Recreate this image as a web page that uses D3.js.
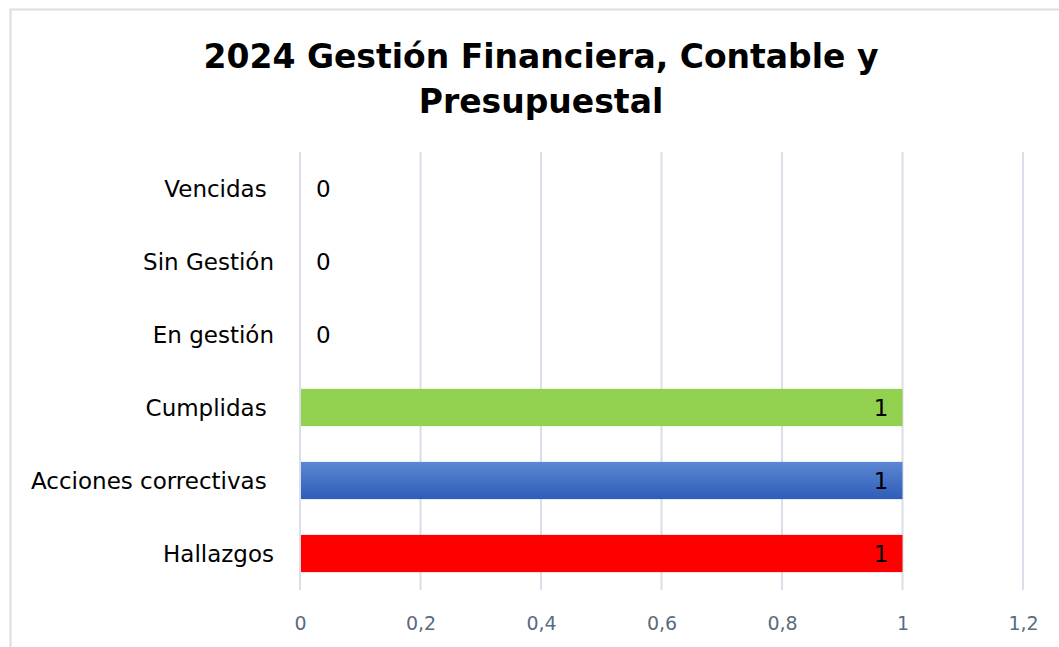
<!DOCTYPE html>
<html>
<head>
<meta charset="utf-8">
<script src="https://cdn.jsdelivr.net/npm/d3@7"></script>
<style>
  body { margin: 0; background: #fff; }
  text { font-family: "DejaVu Sans", Verdana, sans-serif; }
</style>
</head>
<body>
<div id="chart"></div>
<script>
// datos
var categories = ["Vencidas ", "Sin Gestión", "En gestión", "Cumplidas ", "Acciones correctivas ", "Hallazgos"];
var values = [0, 0, 0, 1, 1, 1];
var barColors = ["#92d050", "#92d050", "#92d050", "#92d050", "url(#gradBlue)", "#ff0000"];
var xTicks = [0, 0.2, 0.4, 0.6, 0.8, 1, 1.2];
var titleLines = ["2024 Gestión Financiera, Contable y", "Presupuestal"];

var width = 1059, height = 647;
var margin = {top: 152, right: 36, bottom: 57, left: 300};

var svg = d3.select("#chart").append("svg")
    .attr("width", width)
    .attr("height", height);

var defs = svg.append("defs");
var grad = defs.append("linearGradient")
    .attr("id", "gradBlue")
    .attr("x1", 0).attr("y1", 0).attr("x2", 0).attr("y2", 1);
grad.append("stop").attr("offset", "0%").attr("stop-color", "#5d87d3");
grad.append("stop").attr("offset", "100%").attr("stop-color", "#2e5db8");

// marco
svg.append("rect")
    .attr("x", 10.5).attr("y", 9.5)
    .attr("width", 1080).attr("height", 700)
    .attr("fill", "#fff")
    .attr("stroke", "#d9dde5")
    .attr("stroke-width", 2);

// titulo
svg.append("g").selectAll("text")
    .data(titleLines)
  .enter().append("text")
    .attr("x", 541)
    .attr("y", function(d, i) { return 68 + i * 45; })
    .attr("text-anchor", "middle")
    .style("font-weight", "bold")
    .style("font-size", "33px")
    .attr("fill", "#000")
    .text(function(d) { return d; });

var x = d3.scaleLinear()
    .domain([0, 1.2])
    .range([margin.left, margin.left + 723]);

var y = d3.scaleBand()
    .domain(categories)
    .range([margin.top, height - margin.bottom])
    .paddingInner(0.49)
    .paddingOuter(0.245);

// lineas de cuadricula
svg.append("g").selectAll("line")
    .data(xTicks)
  .enter().append("line")
    .attr("x1", function(d) { return x(d); })
    .attr("x2", function(d) { return x(d); })
    .attr("y1", margin.top)
    .attr("y2", height - margin.bottom)
    .attr("stroke", "#d9dee8")
    .attr("stroke-width", 2);

// etiquetas eje x
var xAxis = d3.axisBottom(x)
    .tickValues(xTicks)
    .tickSize(0)
    .tickPadding(0)
    .tickFormat(function(d) { return d3.format("")(d).replace(".", ","); });

var gx = svg.append("g")
    .attr("transform", "translate(0," + 616 + ")")
    .call(xAxis);
gx.select(".domain").remove();
gx.selectAll("text")
    .attr("fill", "#5b6b80")
    .style("font-size", "19px")
    .style("font-family", "DejaVu Sans, sans-serif");

// etiquetas categorias
svg.append("g").selectAll("text")
    .data(categories)
  .enter().append("text")
    .attr("x", 274)
    .attr("y", function(d) { return y(d) + y.bandwidth() / 2; })
    .attr("dy", "0.35em")
    .attr("text-anchor", "end")
    .style("white-space", "pre")
    .style("font-size", "23px")
    .attr("fill", "#000")
    .text(function(d) { return d; });

// barras
svg.append("g").selectAll("rect")
    .data(values)
  .enter().append("rect")
    .attr("x", x(0) + 1)
    .attr("y", function(d, i) { return y(categories[i]); })
    .attr("width", function(d) { return Math.max(0, x(d) - x(0) - 1); })
    .attr("height", y.bandwidth())
    .attr("fill", function(d, i) { return barColors[i]; });

// etiquetas de valores
svg.append("g").selectAll("text")
    .data(values)
  .enter().append("text")
    .attr("x", function(d) { return d > 0 ? x(d) - 14 : x(0) + 16; })
    .attr("y", function(d, i) { return y(categories[i]) + y.bandwidth() / 2; })
    .attr("dy", "0.37em")
    .attr("text-anchor", function(d) { return d > 0 ? "end" : "start"; })
    .style("font-size", "23px")
    .attr("fill", "#000")
    .text(function(d) { return d; });
</script>
</body>
</html>
